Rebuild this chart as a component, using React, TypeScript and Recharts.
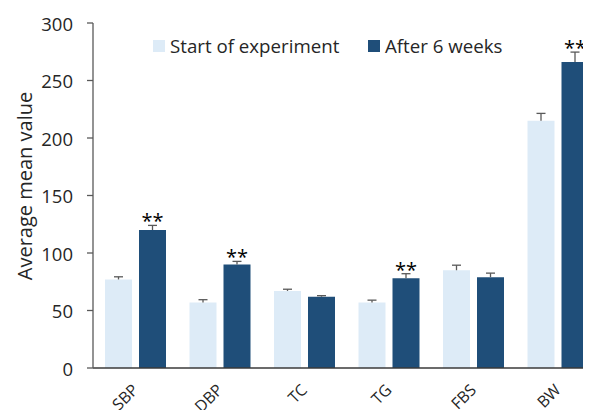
import React from 'react';
import { BarChart, Bar, XAxis, YAxis, Legend, LabelList, Label } from 'recharts';

const categories = ['SBP', 'DBP', 'TC', 'TG', 'FBS', 'BW'];
const startValues = [77, 57, 67, 57, 85, 215];
const afterValues = [120, 90, 62, 78, 79, 266];
const startErrors = [2.3, 2.4, 1.5, 2.0, 4.4, 6.4];
const afterErrors = [4.0, 2.7, 0.9, 4.0, 3.5, 8.7];
const significance = ['**', '**', '', '**', '', '**'];
const yTicks = [0, 50, 100, 150, 200, 250, 300];
const seriesNames = ['Start of experiment', 'After 6 weeks'];
const yAxisTitle = 'Average mean value';

const LIGHT = '#DDEBF7';
const DARK = '#1F4E79';
const ERR = '#595959';
const TEXT = '#262626';
const FONT = '"Open Sans", "Noto Sans", sans-serif';

const data = categories.map((c, i) => ({
  category: c,
  start: startValues[i],
  after: afterValues[i],
}));

const makeErrLabel = (values: number[], errors: number[], sigs?: string[]) => (props: any) => {
  const vb = props.viewBox || {};
  const x = Number(props.x ?? vb.x);
  const y = Number(props.y ?? vb.y);
  const w = Number(props.width ?? vb.width);
  const h = Number(props.height ?? vb.height);
  const idx = categories.indexOf(String(props.value));
  if (idx < 0 || !isFinite(x) || !isFinite(y)) return null;
  const pxPerUnit = Math.abs(h) / values[idx];
  const cx = x + w / 2;
  const top = y - errors[idx] * pxPerUnit;
  const sig = sigs ? sigs[idx] : '';
  return (
    <g>
      <line x1={cx} y1={y} x2={cx} y2={top} stroke={ERR} strokeWidth={1.3} />
      <line x1={cx - 4.5} y1={top} x2={cx + 4.5} y2={top} stroke={ERR} strokeWidth={1.3} />
      {sig ? (
        <text x={cx} y={top + 3} textAnchor="middle" fontSize={20} fill="#000" fontFamily={FONT}>
          {sig}
        </text>
      ) : null}
    </g>
  );
};

const XTick = (props: any) => {
  const { x, y, payload } = props;
  const ax = x + 4;
  const ay = y + 23;
  return (
    <text
      x={ax}
      y={ay}
      transform={`rotate(-45 ${ax} ${ay})`}
      textAnchor="end"
      fontSize={16}
      fill={TEXT}
      fontFamily={FONT}
    >
      {payload.value}
    </text>
  );
};

const YTick = (props: any) => {
  const { y, payload } = props;
  return (
    <text x={73} y={y} textAnchor="end" dominantBaseline="central" fontSize={18.5} fill={TEXT} fontFamily={FONT}>
      {payload.value}
    </text>
  );
};

const LegendContent = () => (
  <div style={{ display: 'flex', fontFamily: FONT, fontSize: 18.7, color: TEXT, lineHeight: '22px' }}>
    {seriesNames.map((n, i) => (
      <div key={n} style={{ display: 'flex', alignItems: 'center', width: i === 0 ? 215 : 'auto', whiteSpace: 'nowrap' }}>
        <span style={{ display: 'inline-block', width: 12, height: 12, background: i === 0 ? LIGHT : DARK, marginRight: 5 }} />
        <span>{n}</span>
      </div>
    ))}
  </div>
);

const YTitle = () => (
  <text
    x={24}
    y={186}
    transform="rotate(-90 24 186)"
    textAnchor="middle"
    dominantBaseline="central"
    fontSize={20}
    fill={TEXT}
    fontFamily={FONT}
  >
    {yAxisTitle}
  </text>
);

export default function App() {
  return (
    <div style={{ margin: -8, width: 591, height: 418, overflow: 'hidden', position: 'relative', background: '#fff' }}>
      <BarChart
        width={608}
        height={418}
        data={data}
        margin={{ top: 23, right: 8, left: 0, bottom: 20 }}
        barSize={27}
        barGap={7}
      >
        <XAxis
          dataKey="category"
          height={30}
          axisLine={{ stroke: '#3a3a3a', strokeWidth: 1.6 }}
          tickLine={false}
          tickSize={0}
          tickMargin={0}
          interval={0}
          tick={<XTick />}
        />
        <YAxis
          width={93}
          domain={[0, 300]}
          ticks={yTicks}
          interval={0}
          axisLine={{ stroke: '#595959', strokeWidth: 1.3 }}
          tickLine={{ stroke: '#595959', strokeWidth: 1.3 }}
          tickSize={6}
          tick={<YTick />}
        >
          <Label content={<YTitle />} />
        </YAxis>
        <Legend
          layout="horizontal"
          verticalAlign="top"
          align="center"
          content={<LegendContent />}
          wrapperStyle={{ position: 'absolute', top: 35, left: 153, width: 'auto', height: 0, overflow: 'visible' }}
        />
        <Bar dataKey="start" name={seriesNames[0]} fill={LIGHT} isAnimationActive={false}>
          <LabelList dataKey="category" content={makeErrLabel(startValues, startErrors)} />
        </Bar>
        <Bar dataKey="after" name={seriesNames[1]} fill={DARK} isAnimationActive={false}>
          <LabelList dataKey="category" content={makeErrLabel(afterValues, afterErrors, significance)} />
        </Bar>
      </BarChart>
    </div>
  );
}
